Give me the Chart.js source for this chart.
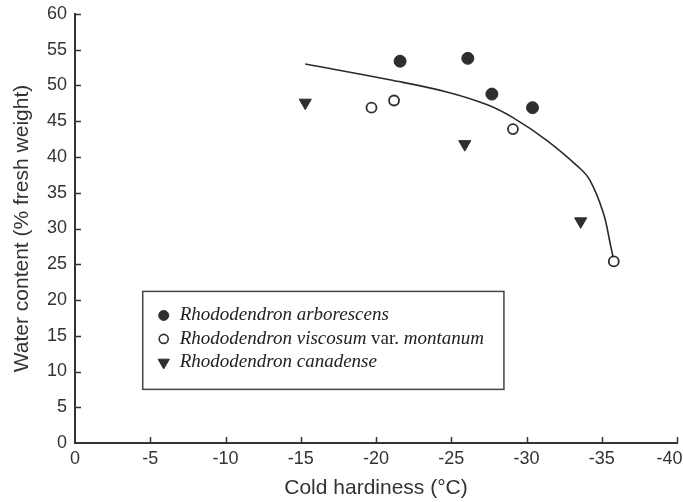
<!DOCTYPE html>
<html>
<head>
<meta charset="utf-8">
<title>Water content vs cold hardiness</title>
<style>
  html, body { margin: 0; padding: 0; background: #fff; }
</style>
</head>
<body>
<canvas id="myChart" width="683" height="502"></canvas>
<script src="https://cdn.jsdelivr.net/npm/chart.js@4"></script>
<script>
// values
var arborX = [-21.6, -26.1, -27.7, -30.4];
var arborY = [53.4, 53.8, 48.8, 46.9];
var viscX = [-19.7, -21.2, -29.1, -35.8];
var viscY = [46.9, 47.9, 43.9, 25.4];
var canaX = [-15.3, -25.9, -33.6];
var canaY = [47.6, 41.8, 31.0];
// fitted curve
var fitX = [-15.3, -20.9, -24.7, -27.4, -29.1, -31.3, -33.4, -34.2, -35.1, -35.6, -35.75];
var fitY = [53.0, 50.8, 49.1, 47.3, 45.5, 42.4, 38.7, 36.8, 32.2, 27.5, 26.0];
var xTickLabels = ['0', '-5', '-10', '-15', '-20', '-25', '-30', '-35', '-40   '];
var seriesNames = ['Rhododendron arborescens', 'Rhododendron viscosum var. montanum', 'Rhododendron canadense'];
var xTitle = 'Cold hardiness (°C)';
var yTitle = 'Water content (% fresh weight)';

var ink = '#2e2e2e';

function pts(xs, ys) {
  var out = [];
  for (var i = 0; i < xs.length; i++) out.push({x: xs[i], y: ys[i]});
  return out;
}

// small tick marks pointing into the plot
var inwardTicks = {
  id: 'inwardTicks',
  afterDatasetsDraw: function(chart) {
    var ctx = chart.ctx, a = chart.chartArea;
    var xs = chart.scales.x, ys = chart.scales.y;
    ctx.save();
    ctx.strokeStyle = '#333';
    ctx.lineWidth = 1.5;
    ctx.beginPath();
    xs.ticks.forEach(function(t) {
      if (t.value === 0) return;
      var px = Math.round(xs.getPixelForValue(t.value)) + 0.5;
      ctx.moveTo(px, a.bottom);
      ctx.lineTo(px, a.bottom - 6);
    });
    ys.ticks.forEach(function(t) {
      if (t.value === 0) return;
      var py = Math.round(ys.getPixelForValue(t.value)) + 0.5;
      ctx.moveTo(a.left, py);
      ctx.lineTo(a.left + 6, py);
    });
    ctx.stroke();
    ctx.restore();
  }
};

// boxed legend with italic species names
var boxLegend = {
  id: 'boxLegend',
  afterDraw: function(chart) {
    var ctx = chart.ctx;
    var xs = chart.scales.x, ys = chart.scales.y;
    var left = xs.getPixelForValue(-4.5), right = xs.getPixelForValue(-28.5);
    var top = ys.getPixelForValue(21.2), bottom = ys.getPixelForValue(7.5);
    ctx.save();
    ctx.fillStyle = '#fff';
    ctx.fillRect(left, top, right - left, bottom - top);
    ctx.strokeStyle = '#444';
    ctx.lineWidth = 1.5;
    ctx.strokeRect(left, top, right - left, bottom - top);

    var styles = [
      {pointStyle: 'circle', radius: 5, rotation: 0, borderWidth: 1, fill: ink},
      {pointStyle: 'circle', radius: 4.5, rotation: 0, borderWidth: 1.6, fill: '#fff'},
      {pointStyle: 'triangle', radius: 6.5, rotation: 180, borderWidth: 1, fill: ink}
    ];
    for (var i = 0; i < seriesNames.length; i++) {
      var cy = top + 24 + i * 23.5;
      var st = styles[i];
      ctx.fillStyle = st.fill;
      ctx.strokeStyle = ink;
      ctx.lineWidth = st.borderWidth;
      Chart.helpers.drawPoint(ctx, st, left + 21, cy);

      var tx = left + 37;
      ctx.fillStyle = '#222';
      ctx.textBaseline = 'middle';
      var words = seriesNames[i].split(' ');
      for (var w = 0; w < words.length; w++) {
        var roman = words[w] === 'var.';
        ctx.font = (roman ? '' : 'italic ') + '19px "Liberation Serif", "Times New Roman", serif';
        var s = words[w] + (w < words.length - 1 ? ' ' : '');
        ctx.fillText(s, tx, cy);
        tx += ctx.measureText(s).width;
      }
    }
    ctx.restore();
  }
};

Chart.defaults.font.family = '"Liberation Sans", Arial, sans-serif';
Chart.defaults.color = '#333';

var ctx = document.getElementById('myChart').getContext('2d');
var chart = new Chart(ctx, {
  type: 'scatter',
  data: {
    datasets: [
      {
        label: 'fit',
        type: 'line',
        data: pts(fitX, fitY),
        showLine: true,
        fill: false,
        pointRadius: 0,
        borderColor: '#2a2a2a',
        borderWidth: 1.6,
        tension: 0.4,
        order: 0
      },
      {
        label: seriesNames[0],
        data: pts(arborX, arborY),
        pointStyle: 'circle',
        pointRadius: 6,
        backgroundColor: ink,
        borderColor: ink,
        borderWidth: 1,
        order: 1
      },
      {
        label: seriesNames[1],
        data: pts(viscX, viscY),
        pointStyle: 'circle',
        pointRadius: 5,
        backgroundColor: '#fff',
        borderColor: ink,
        borderWidth: 1.8,
        order: 1
      },
      {
        label: seriesNames[2],
        data: pts(canaX, canaY),
        pointStyle: 'triangle',
        rotation: 180,
        pointRadius: 7,
        backgroundColor: ink,
        borderColor: ink,
        borderWidth: 1,
        order: 1
      }
    ]
  },
  options: {
    responsive: false,
    animation: false,
    layout: {
      autoPadding: false,
      padding: {left: 0, top: 14, right: 6, bottom: 0}
    },
    plugins: {
      legend: {display: false},
      tooltip: {enabled: false}
    },
    scales: {
      x: {
        type: 'linear',
        reverse: true,
        min: -40,
        max: 0,
        ticks: {
          stepSize: 5, padding: 5, font: {size: 18}, maxRotation: 0,
          callback: function(v, i) { return xTickLabels[i]; }
        },
        grid: {drawOnChartArea: false, drawTicks: false},
        border: {display: true, color: '#333', width: 2},
        title: {display: true, text: xTitle, font: {size: 21}, padding: {top: 0, bottom: 1}},
        afterFit: function(s) {
          s.height = 59;
          s.paddingLeft = 0;
          s.paddingRight = 0;
        }
      },
      y: {
        min: 0,
        max: 60,
        ticks: {stepSize: 5, padding: 8, font: {size: 18}},
        grid: {drawOnChartArea: false, drawTicks: false},
        border: {display: true, color: '#333', width: 2},
        title: {display: true, text: yTitle, font: {size: 21}, padding: {top: 10, bottom: 0}},
        afterFit: function(s) {
          s.width = 75;
          s.paddingTop = 0;
          s.paddingBottom = 0;
        }
      }
    }
  },
  plugins: [inwardTicks, boxLegend]
});
</script>
</body>
</html>
